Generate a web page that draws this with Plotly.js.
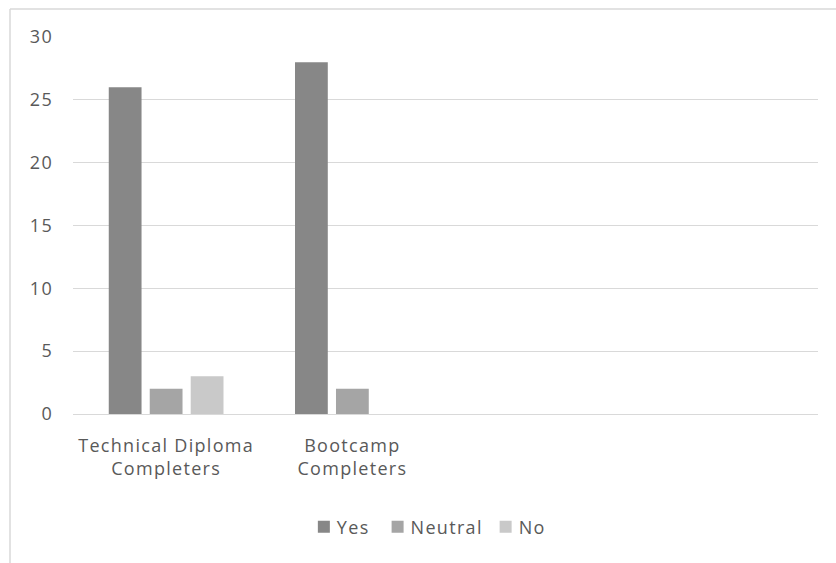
<!DOCTYPE html>
<html>
<head>
<meta charset="utf-8">
<script src="https://cdn.plot.ly/plotly-3.0.1.min.js"></script>
<style>
  html, body { margin: 0; padding: 0; background: #ffffff; }
  #chart { width: 836px; height: 563px; }
  /* slightly looser tracking for all chart text */
  #chart text { letter-spacing: 1.3px; }
  /* tuck legend labels closer to their swatches */
  #chart .legendtext { transform: translateX(-7px); }
</style>
</head>
<body>
<div id="chart"></div>
<script>
// Survey responses by completer group (two blank slots keep the category width)
const categories = ["Technical Diploma<br>Completers", "Bootcamp<br>Completers", " ", "  "];
const yesValues = [26, 28, null, null];
const neutralValues = [2, 2, null, null];
const noValues = [3, null, null, null];
const yTicks = [0, 5, 10, 15, 20, 25, 30];

const textColor = "#595959";
const gridColor = "#d9d9d9";
const fontFamily = "'Open Sans', 'Noto Sans', sans-serif";
const fontSize = 18;

const traces = [
  { name: "Yes", x: categories, y: yesValues, type: "bar", marker: { color: "#878787" } },
  { name: "Neutral", x: categories, y: neutralValues, type: "bar", marker: { color: "#a5a5a5" } },
  { name: "No", x: categories, y: noValues, type: "bar", marker: { color: "#c9c9c9" } }
];

const margin = { l: 73, r: 18, t: 37, b: 149 };
const plotW = 836 - margin.l - margin.r;
const plotH = 563 - margin.t - margin.b;
const frameX = (10 - margin.l) / plotW;
const frameY = 1 + (margin.t - 9) / plotH;

const layout = {
  width: 836,
  height: 563,
  margin: margin,
  paper_bgcolor: "#ffffff",
  plot_bgcolor: "#ffffff",
  font: { family: fontFamily, size: fontSize, color: textColor },
  barmode: "group",
  bargap: 0.34,
  bargroupgap: 0.2,
  showlegend: true,
  legend: {
    orientation: "h",
    x: 0.479, xanchor: "center",
    y: -0.30, yanchor: "middle",
    font: { family: fontFamily, size: fontSize, color: textColor },
    itemwidth: 30,
    traceorder: "normal"
  },
  xaxis: {
    type: "category",
    categoryorder: "array",
    categoryarray: categories,
    showgrid: false,
    showline: false,
    zeroline: false,
    ticks: "",
    ticklabelstandoff: 19,
    tickfont: { family: fontFamily, size: fontSize, color: textColor },
    fixedrange: true
  },
  yaxis: {
    range: [0, 30],
    tickvals: yTicks,
    ticktext: yTicks.map(String),
    showgrid: true,
    gridcolor: gridColor,
    gridwidth: 1,
    zeroline: true,
    zerolinecolor: gridColor,
    zerolinewidth: 1,
    showline: false,
    ticks: "",
    ticklabelstandoff: 19,
    tickfont: { family: fontFamily, size: fontSize, color: textColor },
    fixedrange: true
  },
  shapes: [
    { type: "line", xref: "paper", yref: "paper", x0: frameX, x1: frameX, y0: frameY, y1: -1,
      line: { color: gridColor, width: 1.5 } },
    { type: "line", xref: "paper", yref: "paper", x0: frameX, x1: 1.2, y0: frameY, y1: frameY,
      line: { color: gridColor, width: 1.5 } }
  ]
};

Plotly.newPlot("chart", traces, layout, { displayModeBar: false, staticPlot: true });
</script>
</body>
</html>
